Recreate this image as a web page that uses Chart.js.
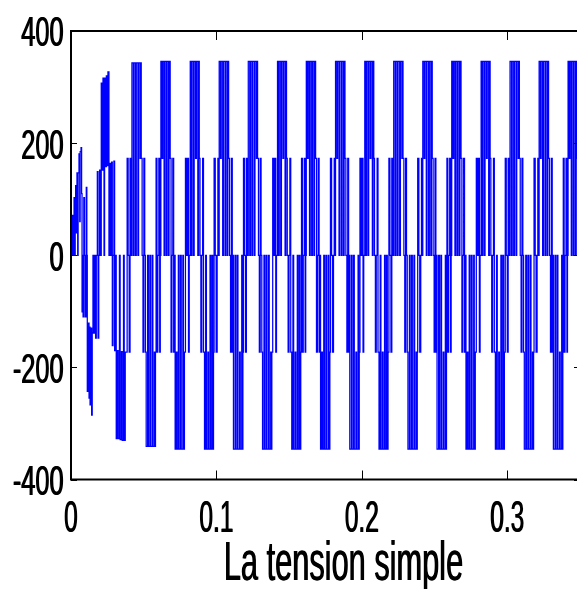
<!DOCTYPE html>
<html>
<head>
<meta charset="utf-8">
<script src="https://cdn.jsdelivr.net/npm/chart.js@4.4.1/dist/chart.umd.min.js"></script>
<style>
  html, body { margin: 0; padding: 0; background: #fff; overflow: hidden; }
  #wrap { width: 577px; height: 589px; overflow: hidden; }
  canvas { display: block; }
</style>
</head>
<body>
<div id="wrap"><canvas id="chart" width="600" height="589"></canvas></div>
<script>
const xTicks = [0, 0.1, 0.2, 0.3];
const xTickLabels = ['0', '0.1', '0.2', '0.3'];
const yTicks = [-400, -200, 0, 200, 400];
const yTickLabels = ['-400', '-200', '0', '200', '400'];
const xTitle = 'La tension simple';

// switching instants: [time in ms, phase voltage in V]
// the level holds until the next instant
const startup = [
  [0.0, 0], [0.3, 35], [0.7, 0], [0.9, 71], [1.5, 0], [1.8, 71], [2.1, 103], [2.6, 0], [2.9, 103], [3.2, 124],
  [3.7, 40], [4.1, 147], [4.6, 0], [4.9, 147], [5.5, 181], [6.0, 60], [6.3, 185], [6.9, 192], [7.3, 110], [7.6, -101],
  [8.0, 0], [8.3, -110], [8.8, 103], [9.3, 0], [9.8, -110], [10.5, 121], [10.9, 0], [11.2, -243], [11.7, -121], [12.4, -255],
  [12.8, -128], [13.1, -267], [13.6, -130], [14.2, -285], [14.6, -139], [15.1, 0], [15.6, -139], [16.3, 0], [16.9, -148], [17.4, 0],
  [18.1, 149], [18.6, -148], [19.1, 0], [19.7, 152], [20.2, 0], [20.8, 307], [21.4, 152], [22.0, 316], [22.7, 0], [23.1, 316],
  [23.9, 158], [24.3, 320], [25.0, 160], [25.4, 327], [26.1, 0], [26.6, 164], [27.3, 0], [27.9, 166], [28.4, -161], [28.9, 0],
  [29.5, 168], [30.0, -170], [30.6, 0], [31.1, -327], [31.9, -170], [32.4, -327], [33.3, 0], [33.8, -329], [34.7, -172], [35.2, -330],
  [36.1, 0], [36.6, -330], [37.3, -173]
];

const steady = [
  [38.6, 173], [39.3, 0], [40.0, -173], [40.6, 173], [41.2, 0], [41.9, 343], [42.9, 0], [43.4, 343], [44.4, 0], [44.9, 343], [46.0, 0], [46.5, 343], [47.5, 173], [47.9, 343], [48.3, 173], [48.9, 0], [49.5, -173], [50.1, 173], [50.7, 0], [51.2, -173], [51.7, -341], [52.7, 0], [53.2, -341], [54.2, 0], [54.7, -341], [55.8, 0], [56.3, -341], [57.3, -173], [57.7, -341], [58.1, -173],
  [58.5, 173], [59.1, -173], [59.7, 0], [60.4, 173], [61.0, -173], [61.4, 0], [61.8, 346], [62.5, 173], [63.1, 346], [64.0, 0], [64.5, 346], [65.5, 0], [66.0, 346], [67.0, 0], [67.4, 346], [68.2, 173], [68.8, -173], [69.4, 0], [70.0, 173], [70.6, -173], [71.1, 0], [71.6, -346], [72.3, -173], [72.9, -346], [73.8, 0], [74.3, -346], [75.3, 0], [75.8, -346], [76.9, 0], [77.3, -346], [78.0, -173],
  [78.7, 173], [79.5, 0], [80.2, 173], [80.8, -173], [81.3, 0], [82.0, 346], [82.7, 0], [83.2, 346], [84.2, 0], [84.7, 346], [85.7, 173], [86.2, 346], [87.2, 0], [87.7, 346], [88.2, 173], [88.7, 0], [89.3, -173], [89.9, 0], [90.5, 173], [91.1, -173], [91.8, -346], [92.6, 0], [93.1, -346], [94.1, -173], [94.6, -346], [95.6, 0], [96.1, -346], [97.0, 0], [97.5, -346], [98.0, -173],
  [98.4, 173], [99.2, 0], [99.8, -173], [100.5, 0], [101.0, 173], [101.5, 0], [101.9, 346], [102.8, 173], [103.3, 346], [104.3, 0], [104.8, 346], [105.9, 0], [106.4, 346], [107.4, 0], [107.8, 346], [108.4, 173], [109.0, 0], [109.7, -173], [110.3, 173], [110.9, -173], [111.3, 0], [111.7, -346], [112.8, 0], [113.3, -346], [114.3, 0], [114.8, -346], [115.9, -173], [116.4, -346], [117.4, 0], [117.8, -346], [118.2, -173],
  [118.6, 173], [119.3, 0], [120.0, -173], [120.6, 173], [121.2, 0], [121.9, 346], [122.9, 0], [123.4, 346], [124.4, 0], [124.9, 346], [126.0, 0], [126.5, 346], [127.5, 173], [127.9, 346], [128.3, 173], [128.9, 0], [129.5, -173], [130.1, 173], [130.7, 0], [131.2, -173], [131.7, -346], [132.7, 0], [133.2, -346], [134.2, 0], [134.7, -346], [135.8, 0], [136.3, -346], [137.3, -173], [137.7, -346], [138.1, -173],
  [138.7, 173], [139.5, 0], [140.2, 173], [140.8, -173], [141.3, 0], [142.0, 346], [142.7, 0], [143.2, 346], [144.2, 0], [144.7, 346], [145.7, 173], [146.2, 346], [147.2, 0], [147.7, 346], [148.2, 173], [148.7, 0], [149.3, -173], [149.9, 0], [150.5, 173], [151.1, -173], [151.8, -346], [152.6, 0], [153.1, -346], [154.1, -173], [154.6, -346], [155.6, 0], [156.1, -346], [157.0, 0], [157.5, -346], [158.0, -173],
  [158.5, 173], [159.1, -173], [159.7, 0], [160.4, 173], [161.0, -173], [161.4, 0], [161.8, 346], [162.5, 173], [163.1, 346], [164.0, 0], [164.5, 346], [165.5, 0], [166.0, 346], [167.0, 0], [167.4, 346], [168.2, 173], [168.8, -173], [169.4, 0], [170.0, 173], [170.6, -173], [171.1, 0], [171.6, -346], [172.3, -173], [172.9, -346], [173.8, 0], [174.3, -346], [175.3, 0], [175.8, -346], [176.9, 0], [177.3, -346], [178.0, -173],
  [178.4, 173], [179.2, 0], [179.8, -173], [180.5, 0], [181.0, 173], [181.5, 0], [181.9, 346], [182.8, 173], [183.3, 346], [184.3, 0], [184.8, 346], [185.9, 0], [186.4, 346], [187.4, 0], [187.8, 346], [188.4, 173], [189.0, 0], [189.7, -173], [190.3, 173], [190.9, -173], [191.3, 0], [191.7, -346], [192.8, 0], [193.3, -346], [194.3, 0], [194.8, -346], [195.9, -173], [196.4, -346], [197.4, 0], [197.8, -346], [198.2, -173],
  [198.7, 173], [199.5, 0], [200.2, 173], [200.8, -173], [201.3, 0], [202.0, 346], [202.7, 0], [203.2, 346], [204.2, 0], [204.7, 346], [205.7, 173], [206.2, 346], [207.2, 0], [207.7, 346], [208.2, 173], [208.7, 0], [209.3, -173], [209.9, 0], [210.5, 173], [211.1, -173], [211.8, -346], [212.6, 0], [213.1, -346], [214.1, -173], [214.6, -346], [215.6, 0], [216.1, -346], [217.0, 0], [217.5, -346], [218.0, -173],
  [218.6, 173], [219.3, 0], [220.0, -173], [220.6, 173], [221.2, 0], [221.9, 346], [222.9, 0], [223.4, 346], [224.4, 0], [224.9, 346], [226.0, 0], [226.5, 346], [227.5, 173], [227.9, 346], [228.3, 173], [228.9, 0], [229.5, -173], [230.1, 173], [230.7, 0], [231.2, -173], [231.7, -346], [232.7, 0], [233.2, -346], [234.2, 0], [234.7, -346], [235.8, 0], [236.3, -346], [237.3, -173], [237.7, -346], [238.1, -173],
  [238.4, 173], [239.2, 0], [239.8, -173], [240.5, 0], [241.0, 173], [241.5, 0], [241.9, 346], [242.8, 173], [243.3, 346], [244.3, 0], [244.8, 346], [245.9, 0], [246.4, 346], [247.4, 0], [247.8, 346], [248.4, 173], [249.0, 0], [249.7, -173], [250.3, 173], [250.9, -173], [251.3, 0], [251.7, -346], [252.8, 0], [253.3, -346], [254.3, 0], [254.8, -346], [255.9, -173], [256.4, -346], [257.4, 0], [257.8, -346], [258.2, -173],
  [258.5, 173], [259.1, -173], [259.7, 0], [260.4, 173], [261.0, -173], [261.4, 0], [261.8, 346], [262.5, 173], [263.1, 346], [264.0, 0], [264.5, 346], [265.5, 0], [266.0, 346], [267.0, 0], [267.4, 346], [268.2, 173], [268.8, -173], [269.4, 0], [270.0, 173], [270.6, -173], [271.1, 0], [271.6, -346], [272.3, -173], [272.9, -346], [273.8, 0], [274.3, -346], [275.3, 0], [275.8, -346], [276.9, 0], [277.3, -346], [278.0, -173],
  [278.7, 173], [279.5, 0], [280.2, 173], [280.8, -173], [281.3, 0], [282.0, 346], [282.7, 0], [283.2, 346], [284.2, 0], [284.7, 346], [285.7, 173], [286.2, 346], [287.2, 0], [287.7, 346], [288.2, 173], [288.7, 0], [289.3, -173], [289.9, 0], [290.5, 173], [291.1, -173], [291.8, -346], [292.6, 0], [293.1, -346], [294.1, -173], [294.6, -346], [295.6, 0], [296.1, -346], [297.0, 0], [297.5, -346], [298.0, -173],
  [298.6, 173], [299.3, 0], [300.0, -173], [300.6, 173], [301.2, 0], [301.9, 346], [302.9, 0], [303.4, 346], [304.4, 0], [304.9, 346], [306.0, 0], [306.5, 346], [307.5, 173], [307.9, 346], [308.3, 173], [308.9, 0], [309.5, -173], [310.1, 173], [310.7, 0], [311.2, -173], [311.7, -346], [312.7, 0], [313.2, -346], [314.2, 0], [314.7, -346], [315.8, 0], [316.3, -346], [317.3, -173], [317.7, -346], [318.1, -173],
  [318.4, 173], [319.2, 0], [319.8, -173], [320.5, 0], [321.0, 173], [321.5, 0], [321.9, 346], [322.8, 173], [323.3, 346], [324.3, 0], [324.8, 346], [325.9, 0], [326.4, 346], [327.4, 0], [327.8, 346], [328.4, 173], [329.0, 0], [329.7, -173], [330.3, 173], [330.9, -173], [331.3, 0], [331.7, -346], [332.8, 0], [333.3, -346], [334.3, 0], [334.8, -346], [335.9, -173], [336.4, -346], [337.4, 0], [337.8, -346], [338.2, -173],
  [338.5, 173], [339.1, -173], [339.7, 0], [340.4, 173], [341.0, -173], [341.4, 0], [341.8, 346], [342.5, 173], [343.1, 346], [344.0, 0], [344.5, 346], [345.5, 0], [346.0, 346], [347.0, 0], [347.4, 346], [348.2, 173], [348.8, -173], [349.4, 0], [350.0, 173], [350.6, -173]
];

const points = startup.concat(steady).map(([ms, v]) => ({ x: ms / 1000, y: v }));

// the figure text is tall and narrow, so it is drawn squeezed sideways
// and filled twice, a pixel apart, to get the heavier strokes
function squeezedText(ctx, text, x, y, align, sx, sy) {
  [0, 0.8].forEach(dx => {
    ctx.save();
    ctx.translate(x + dx, y);
    ctx.scale(sx, sy);
    ctx.textAlign = align;
    ctx.textBaseline = 'alphabetic';
    ctx.fillText(text, 0, 0);
    ctx.restore();
  });
}

const matlabAxes = {
  id: 'matlabAxes',
  afterDatasetsDraw(chart) {
    const { ctx, chartArea: a, scales: { x, y } } = chart;
    ctx.save();
    ctx.strokeStyle = '#000';
    ctx.lineWidth = 1;
    ctx.beginPath();
    xTicks.forEach(v => {
      const px = Math.round(x.getPixelForValue(v)) + 0.5;
      ctx.moveTo(px, a.bottom); ctx.lineTo(px, a.bottom - 9);
      ctx.moveTo(px, a.top); ctx.lineTo(px, a.top + 9);
    });
    yTicks.forEach(v => {
      const py = Math.round(y.getPixelForValue(v)) + 0.5;
      ctx.moveTo(a.left, py); ctx.lineTo(a.left + 6, py);
      ctx.moveTo(a.right, py); ctx.lineTo(a.right - 6, py);
    });
    ctx.stroke();
    ctx.lineWidth = 2;
    ctx.strokeRect(a.left, a.top, a.right - a.left, a.bottom - a.top);
    ctx.restore();
  },
  afterDraw(chart) {
    const { ctx, chartArea: a, scales: { x, y } } = chart;
    ctx.save();
    ctx.fillStyle = '#000';
    ctx.font = '43px "Liberation Sans", Arial, sans-serif';
    yTicks.forEach((v, i) => {
      squeezedText(ctx, yTickLabels[i], a.left - 7.8, y.getPixelForValue(v) + 15.4, 'right', 0.59, 1.0);
    });
    xTicks.forEach((v, i) => {
      squeezedText(ctx, xTickLabels[i], x.getPixelForValue(v) - 0.4, a.bottom + 52.5, 'center', 0.57, 1.04);
    });
    ctx.font = '56px "Liberation Sans", Arial, sans-serif';
    squeezedText(ctx, xTitle, 343.1, 580, 'center', 0.549, 1.0);
    ctx.restore();
  }
};

new Chart(document.getElementById('chart'), {
  type: 'line',
  data: {
    datasets: [{
      data: points,
      borderColor: 'rgb(0, 0, 255)',
      borderWidth: 1.25,
      stepped: true,
      pointRadius: 0,
      fill: false
    }]
  },
  options: {
    responsive: false,
    devicePixelRatio: 1,
    animation: false,
    layout: { padding: { left: 0, top: 31, right: 20, bottom: 0 } },
    plugins: { legend: { display: false }, tooltip: { enabled: false } },
    scales: {
      x: {
        type: 'linear',
        min: 0,
        max: 0.35,
        afterBuildTicks: s => { s.ticks = xTicks.map(v => ({ value: v })); },
        afterFit: s => { s.height = 109.5; },
        grid: { display: false },
        border: { display: false },
        ticks: { display: false }
      },
      y: {
        min: -400,
        max: 400,
        afterBuildTicks: s => { s.ticks = yTicks.map(v => ({ value: v })); },
        afterFit: s => { s.width = 71; },
        grid: { display: false },
        border: { display: false },
        ticks: { display: false }
      }
    }
  },
  plugins: [matlabAxes]
});
</script>
</body>
</html>
